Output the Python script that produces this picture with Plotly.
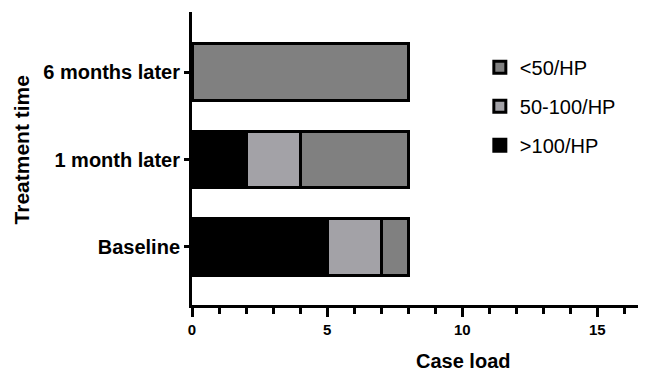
import plotly.graph_objects as go

categories = ["Baseline", "1 month later", "6 months later"]
series_names = [">100/HP", "50-100/HP", "<50/HP"]
gt100 = [5, 2, 0]
mid = [2, 2, 0]
lt50 = [1, 4, 8]
colors = ["#000000", "#a3a2a7", "#808080"]
legend_ranks = [3, 2, 1]

fig = go.Figure()
for name, vals, col, rank in zip(series_names, [gt100, mid, lt50], colors, legend_ranks):
    fig.add_trace(go.Bar(
        y=categories, x=vals, name=name, orientation="h",
        marker=dict(color=col, line=dict(color="black", width=3)),
        width=0.65, legendgroup=name, legendrank=rank,
    ))

font_fam = "Liberation Sans, Arial, sans-serif"
# page body has an 8px default margin, so the figure is sized 8px smaller
fig.update_layout(
    barmode="stack",
    width=638, height=363,
    margin=dict(l=184, r=0, t=4, b=66, autoexpand=False),
    plot_bgcolor="white", paper_bgcolor="white",
    font=dict(family=font_fam, color="black"),
    showlegend=True,
    legend=dict(
        x=0.634, y=0.878, xanchor="left", yanchor="top",
        traceorder="grouped", tracegroupgap=10,
        font=dict(size=20, family=font_fam),
        bgcolor="rgba(0,0,0,0)",
    ),
    annotations=[
        dict(text="<b>Case load</b>", xref="paper", yref="paper",
             x=0.597, y=-0.19, xanchor="center", yanchor="middle",
             showarrow=False, font=dict(size=20, family=font_fam)),
        dict(text="<b>Treatment time</b>", xref="paper", yref="paper",
             x=-0.375, y=0.53, xanchor="center", yanchor="middle",
             textangle=-90, showarrow=False, font=dict(size=21, family=font_fam)),
    ],
)
fig.update_xaxes(
    range=[0, 16.8], dtick=5, tick0=0, automargin=False,
    showline=True, linecolor="black", linewidth=3,
    ticks="outside", ticklen=9, tickwidth=3, tickcolor="black",
    minor=dict(dtick=1, ticks="outside", ticklen=6, tickwidth=3, tickcolor="black"),
    showgrid=False, zeroline=False,
    tickfont=dict(size=15, family=font_fam, weight="bold"),
)
fig.update_yaxes(
    range=[-0.663, 2.686], automargin=False,
    showline=True, linecolor="black", linewidth=3,
    ticks="outside", ticklen=5, tickwidth=3, tickcolor="black",
    showgrid=False, zeroline=False,
    tickfont=dict(size=20, family=font_fam, weight="bold"),
)

fig.write_html("out.html")
